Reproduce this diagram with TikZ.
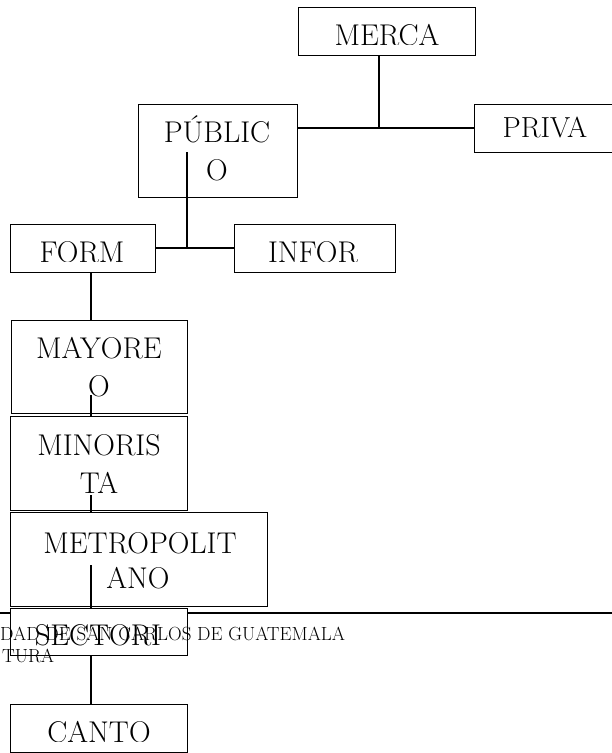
\documentclass[tikz,border=0pt]{standalone}
\usepackage{fontspec}
\setmainfont{Latin Modern Roman}
\begin{document}
\begin{tikzpicture}[x=1pt,y=-1pt,
  box/.style={draw, line width=1.4pt, fill=white, anchor=north west, inner sep=0pt},
  conn/.style={line width=1.4pt},
  lbl/.style={anchor=base, inner sep=0pt, font=\fontsize{30}{37}\selectfont},
  slbl/.style={anchor=base, inner sep=0pt, font=\fontsize{29}{30}\selectfont},
  hdr/.style={anchor=base west, inner sep=0pt, font=\fontsize{19}{22}\selectfont}]
\useasboundingbox (0,0) rectangle (612,753);
% page header rule
\draw[conn] (0,613) coordinate (hl) -- (612,613) coordinate (hr);
% boxes
\node[box, minimum width=177pt, minimum height=48pt] (merca) at (298,7) {};
\node[box, minimum width=160pt, minimum height=48pt] (priva) at (474,104) {};
\node[box, minimum width=159pt, minimum height=93pt] (publico) at (138,104) {};
\node[box, minimum width=145pt, minimum height=48pt] (form) at (10,224) {};
\node[box, minimum width=161pt, minimum height=48pt] (infor) at (234,224) {};
\node[box, minimum width=176pt, minimum height=93pt] (mayoreo) at (11,320) {};
\node[box, minimum width=177pt, minimum height=94pt] (minorista) at (10,416) {};
\node[box, minimum width=257pt, minimum height=94pt] (metro) at (10,512) {};
\node[box, minimum width=177pt, minimum height=47pt] (sectori) at (10,608) {};
\node[box, minimum width=177pt, minimum height=48pt] (canto) at (10,704) {};
% connector coordinates
\coordinate (j1) at (379,128);
\coordinate (p1) at (187,152);
\coordinate (j2) at (187,248);
\coordinate (colx) at (91,0);
\coordinate (m1) at (91,395);
\coordinate (m2) at (91,495);
\coordinate (m3) at (91,565);
% connectors
\draw[conn] (j1 |- merca.south) -- (j1);
\draw[conn] (publico.east |- j1) -- (priva.west |- j1);
\draw[conn] (p1) -- (j2);
\draw[conn] (form.east |- j2) -- (infor.west |- j2);
\draw[conn] (colx |- form.south) -- (colx |- mayoreo.north);
\draw[conn] (m1) -- (m1 |- minorista.north);
\draw[conn] (m2) -- (m2 |- metro.north);
\draw[conn] (m3) -- (m3 |- sectori.north);
\draw[conn] (colx |- sectori.south) -- (colx |- canto.north);
% labels
\begin{scope}
  \clip (298,7) rectangle (475,44);
  \node[lbl] (tmerca) at (387,45.5) {MERCA};
\end{scope}
\node[slbl] (tpriva) at (545,137) {PRIVA};
\node[lbl] (tpub1) at (217,142) {PÚBLIC};
\node[lbl] (tpub2) at (217,180) {O};
\begin{scope}
  \clip (10,224) rectangle (395,261);
  \node[lbl] (tform) at (82,262.5) {FORM};
  \node[lbl] (tinfor) at (313,262.5) {INFOR};
\end{scope}
\node[lbl] (tmay1) at (99,358) {MAYORE};
\node[lbl] (tmay2) at (99,396) {O};
\node[lbl] (tmin1) at (99,455) {MINORIS};
\node[lbl] (tmin2) at (99,493) {TA};
\node[lbl] (tmet1) at (140,553) {METROPOLIT};
\node[lbl] (tmet2) at (138,588) {ANO};
\node[lbl] (tsec) at (98,645) {SECTORI};
\begin{scope}
  \clip (10,704) rectangle (187,741);
  \node[lbl] (tcanto) at (99,742.5) {CANTO};
\end{scope}
% header text
\node[hdr] (h1) at (0,640) {DAD DE SAN CARLOS DE GUATEMALA};
\node[hdr] (h2) at (2,662) {TURA};
\end{tikzpicture}
\end{document}
